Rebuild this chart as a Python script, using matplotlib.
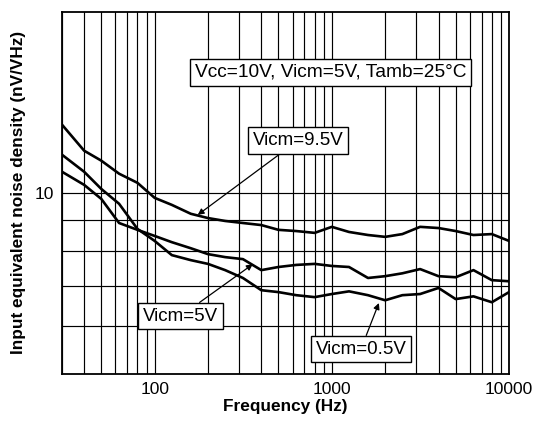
import numpy as np
import matplotlib
matplotlib.use("Agg")
import matplotlib.pyplot as plt
from matplotlib.ticker import FixedLocator, NullFormatter, FixedFormatter

plt.rcParams['font.family'] = ['Liberation Sans', 'DejaVu Sans']

# 1/3-octave frequencies (Hz)
freq = [30, 40, 50, 63, 80, 100, 125, 160, 200, 250, 315, 400, 500, 630,
        800, 1000, 1250, 1600, 2000, 2500, 3150, 4000, 5000, 6300, 8000, 10000]

# noise density (nV/sqrt(Hz))
vicm_9v5 = [12.98, 11.75, 11.31, 10.76, 10.39, 9.81, 9.55, 9.23, 9.08, 8.98,
            8.91, 8.84, 8.68, 8.64, 8.58, 8.78, 8.61, 8.51, 8.45, 8.54,
            8.78, 8.74, 8.64, 8.51, 8.54, 8.32]
vicm_5v = [10.84, 10.31, 9.77, 8.91, 8.68, 8.48, 8.28, 8.09, 7.91, 7.82,
           7.76, 7.44, 7.53, 7.59, 7.62, 7.56, 7.53, 7.22, 7.27, 7.35,
           7.47, 7.27, 7.24, 7.44, 7.16, 7.13]
vicm_0v5 = [11.57, 10.84, 10.15, 9.59, 8.71, 8.32, 7.88, 7.73, 7.62, 7.44,
            7.22, 6.89, 6.84, 6.76, 6.71, 6.79, 6.86, 6.76, 6.63, 6.76,
            6.79, 6.95, 6.66, 6.73, 6.58, 6.84]

x_ticks = [100, 1000, 10000]
x_ticklabels = ['100', '1000', '10000']

fig = plt.figure(figsize=(5.33, 4.21), dpi=100)
ax = fig.add_axes([0.1163, 0.1116, 0.8387, 0.8607])

for y in (vicm_9v5, vicm_5v, vicm_0v5):
    ax.plot(freq, y, color='black', lw=1.9, zorder=3)

ax.set_xscale('log')
ax.set_yscale('log')
ax.set_xlim(30, 10000)
ax.set_ylim(5, 20)

# grid: every vertical decade subdivision, horizontal lines 6..10
minor_x = [m * d for d in (10, 100, 1000) for m in range(2, 10) if 30 <= m * d <= 10000]
ax.xaxis.set_major_locator(FixedLocator(x_ticks))
ax.xaxis.set_major_formatter(FixedFormatter(x_ticklabels))
ax.xaxis.set_minor_locator(FixedLocator(minor_x))
ax.xaxis.set_minor_formatter(NullFormatter())
ax.yaxis.set_major_locator(FixedLocator([10]))
ax.yaxis.set_major_formatter(FixedFormatter(['10']))
ax.yaxis.set_minor_locator(FixedLocator([6, 7, 8, 9]))
ax.yaxis.set_minor_formatter(NullFormatter())

ax.grid(True, which='both', color='black', lw=0.85)
ax.tick_params(which='both', direction='in', length=0, labelsize=12.5, pad=6)
for s in ax.spines.values():
    s.set_linewidth(1.3)

ax.set_xlabel('Frequency (Hz)', fontsize=12.4, fontweight='bold', labelpad=1)
ax.set_ylabel('Input equivalent noise density (nV/VHz)', fontsize=12.4,
              fontweight='bold', labelpad=6)

box = dict(boxstyle='square,pad=0.25', fc='white', ec='black', lw=1.0)
arrow = dict(arrowstyle='-|>', color='black', lw=0.9, mutation_scale=9,
             shrinkA=0, shrinkB=0)

ax.text(985, 15.85, 'Vcc=10V, Vicm=5V, Tamb=25°C', fontsize=13.8,
        ha='center', va='center', bbox=box, zorder=5)

ax.annotate('Vicm=9.5V', xy=(175, 9.19), xytext=(643, 12.21), fontsize=13.5,
            ha='center', va='center', bbox=box, arrowprops=arrow, zorder=5)
ax.annotate('Vicm=5V', xy=(358, 7.61), xytext=(140, 6.24), fontsize=13.5,
            ha='center', va='center', bbox=box, arrowprops=arrow, zorder=5)
ax.annotate('Vicm=0.5V', xy=(1843, 6.56), xytext=(1459, 5.50), fontsize=13.5,
            ha='center', va='center', bbox=box, arrowprops=arrow, zorder=5)

fig.savefig('out.png', dpi=100)
